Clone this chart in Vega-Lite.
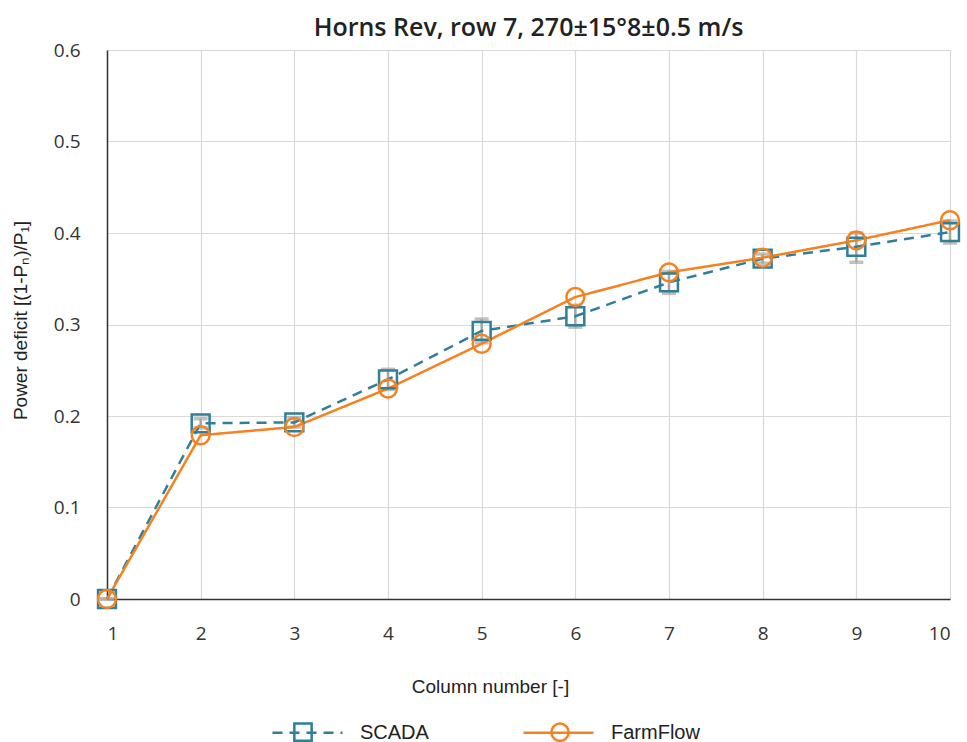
{
  "$schema": "https://vega.github.io/schema/vega-lite/v6.json",
  "width": 843,
  "height": 549,
  "autosize": {"type": "none"},
  "padding": {"left": 107, "top": 50, "right": 17, "bottom": 143},
  "background": "white",
  "title": {
    "text": "Horns Rev, row 7, 270±15°8±0.5 m/s",
    "font": "Open Sans",
    "fontSize": 25,
    "fontWeight": 600,
    "color": "#222222",
    "offset": 13,
    "dy": 13
  },
  "config": {
    "view": {"stroke": null},
    "axis": {
      "gridColor": "#d9d9d9",
      "gridWidth": 1.2,
      "domainColor": "#333333",
      "domainWidth": 1.5,
      "ticks": false,
      "labelFont": "Open Sans",
      "labelFontSize": 19,
      "labelColor": "#333333",
      "titleFont": "Liberation Sans",
      "titleFontSize": 19,
      "titleFontWeight": "normal",
      "titleColor": "#222222"
    },
    "legend": {
      "labelFont": "Liberation Sans",
      "labelFontSize": 20,
      "labelColor": "#222222"
    }
  },
  "data": {
    "values": [
      {"col": 1, "series": "SCADA", "pd": 0.0, "lo": 0.0, "hi": 0.0},
      {"col": 2, "series": "SCADA", "pd": 0.192, "lo": 0.187, "hi": 0.197},
      {"col": 3, "series": "SCADA", "pd": 0.193, "lo": 0.188, "hi": 0.198},
      {"col": 4, "series": "SCADA", "pd": 0.240, "lo": 0.229, "hi": 0.251},
      {"col": 5, "series": "SCADA", "pd": 0.293, "lo": 0.280, "hi": 0.306},
      {"col": 6, "series": "SCADA", "pd": 0.309, "lo": 0.297, "hi": 0.321},
      {"col": 7, "series": "SCADA", "pd": 0.346, "lo": 0.334, "hi": 0.358},
      {"col": 8, "series": "SCADA", "pd": 0.372, "lo": 0.367, "hi": 0.377},
      {"col": 9, "series": "SCADA", "pd": 0.385, "lo": 0.368, "hi": 0.400},
      {"col": 10, "series": "SCADA", "pd": 0.401, "lo": 0.389, "hi": 0.413},
      {"col": 1, "series": "FarmFlow", "pd": 0.0},
      {"col": 2, "series": "FarmFlow", "pd": 0.179},
      {"col": 3, "series": "FarmFlow", "pd": 0.188},
      {"col": 4, "series": "FarmFlow", "pd": 0.230},
      {"col": 5, "series": "FarmFlow", "pd": 0.279},
      {"col": 6, "series": "FarmFlow", "pd": 0.330},
      {"col": 7, "series": "FarmFlow", "pd": 0.357},
      {"col": 8, "series": "FarmFlow", "pd": 0.373},
      {"col": 9, "series": "FarmFlow", "pd": 0.392},
      {"col": 10, "series": "FarmFlow", "pd": 0.414}
    ]
  },
  "encoding": {
    "x": {
      "field": "col",
      "type": "quantitative",
      "scale": {"domain": [1, 10], "nice": false, "zero": false},
      "axis": {
        "title": "Column number [-]",
        "values": [1, 2, 3, 4, 5, 6, 7, 8, 9, 10],
        "labelPadding": 25,
        "titleX": 383,
        "titleY": 87,
        "titleAlign": "center",
        "titleBaseline": "middle"
      }
    },
    "y": {
      "field": "pd",
      "type": "quantitative",
      "scale": {"domain": [0, 0.6], "nice": false},
      "axis": {
        "title": "Power deficit [(1-Pₙ)/P₁]",
        "values": [0, 0.1, 0.2, 0.3, 0.4, 0.5, 0.6],
        "format": "~g",
        "labelPadding": 27,
        "titleX": -87,
        "titleY": 270,
        "titleAlign": "center",
        "titleBaseline": "middle",
        "titleFontSize": 19
      }
    }
  },
  "layer": [
    {
      "transform": [{"filter": "datum.series === 'SCADA'"}],
      "mark": {"type": "errorbar", "ticks": {"size": 14, "thickness": 3.5, "color": "#a6a6a6"}, "rule": {"strokeWidth": 2.5, "color": "#a6a6a6"}},
      "encoding": {
        "y": {"field": "lo", "type": "quantitative"},
        "y2": {"field": "hi"}
      }
    },
    {
      "mark": {"type": "line", "strokeWidth": 2.5},
      "encoding": {
        "color": {
          "field": "series",
          "type": "nominal",
          "scale": {"range": ["#2f7f99", "#f5821f"]},
          "sort": ["SCADA", "FarmFlow"],
          "legend": {
            "title": null,
            "orient": "none",
            "direction": "horizontal",
            "legendX": 164,
            "legendY": 646,
            "symbolType": "stroke",
            "symbolSize": 4900,
            "symbolStrokeWidth": 2.5,
            "columnPadding": 89,
            "labelOffset": 16,
            "encode": {
              "symbols": {
                "update": {
                  "stroke": {"scale": "color", "field": "value"},
                  "strokeDash": {"signal": "datum.value === 'SCADA' ? [10, 7] : [1, 0]"}
                }
              }
            }
          }
        },
        "strokeDash": {
          "field": "series",
          "type": "nominal",
          "scale": {"range": [[10, 7], [1, 0]]},
          "sort": ["SCADA", "FarmFlow"],
          "legend": null
        }
      }
    },
    {
      "mark": {"type": "point", "size": 320, "filled": false, "strokeWidth": 2.5, "opacity": 1},
      "encoding": {
        "shape": {
          "field": "series",
          "type": "nominal",
          "scale": {"domain": ["SCADA", "FarmFlow"], "range": ["square", "circle"]},
          "legend": {
            "title": null,
            "orient": "none",
            "direction": "horizontal",
            "legendX": 186,
            "legendY": 672,
            "symbolSize": 300,
            "symbolStrokeWidth": 2.5,
            "columnPadding": 229,
            "labelOffset": 0,
            "labelExpr": "''",
            "encode": {
              "symbols": {
                "update": {
                  "stroke": {"scale": "stroke", "field": "value"},
                  "fill": {"value": "white"}
                }
              }
            }
          }
        },
        "stroke": {
          "field": "series",
          "type": "nominal",
          "scale": {"domain": ["SCADA", "FarmFlow"], "range": ["#2f7f99", "#f5821f"]},
          "legend": null
        }
      }
    }
  ]
}
